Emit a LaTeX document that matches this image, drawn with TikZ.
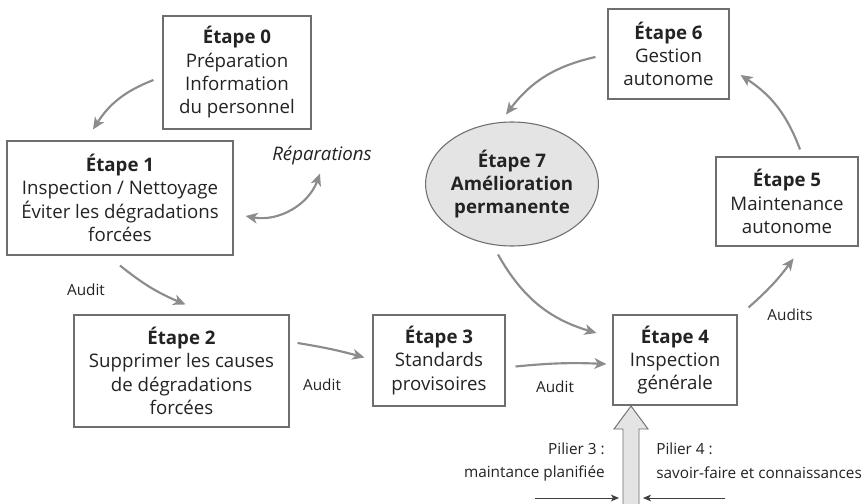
\documentclass[tikz,border=0pt]{standalone}
\usepackage{fontspec}
\setmainfont{Open Sans}
\usetikzlibrary{arrows.meta,shapes.geometric}
\definecolor{arrgray}{RGB}{140,140,140}
\definecolor{boxgray}{RGB}{110,110,110}
\definecolor{ellfill}{RGB}{228,228,228}
\definecolor{txt}{RGB}{35,35,35}
\tikzset{
  stagebox/.style={draw=boxgray,line width=0.8pt,rectangle,align=center,inner sep=0pt,
     text=txt,font=\fontsize{14}{17.5}\selectfont},
  stageell/.style={draw=boxgray,line width=0.8pt,ellipse,fill=ellfill,align=center,inner sep=0pt,
     text=txt,font=\fontsize{14}{17.5}\selectfont\bfseries},
  garrow/.style={draw=arrgray,line width=1.6pt,-{Stealth[length=9pt,width=8pt,inset=2.5pt]}},
  gdarrow/.style={draw=arrgray,line width=1.6pt,{Stealth[length=9pt,width=8pt,inset=2.5pt]}-{Stealth[length=9pt,width=8pt,inset=2.5pt]}},
  karrow/.style={draw=black!75,line width=0.6pt,-{Stealth[length=6pt,width=5pt,inset=1.5pt]}},
  lbl/.style={text=txt,font=\fontsize{11.5}{14}\selectfont,inner sep=0pt},
}
\begin{document}
\begin{tikzpicture}[x=0.75pt,y=-0.75pt]
\useasboundingbox[fill=white] (0,0) rectangle (866,503);
% stages
\node[stagebox,minimum width=111pt,minimum height=84.75pt] (e0) at (237,72.5)
  {\textbf{Étape 0}\\Préparation\\Information\\du personnel};
\node[stagebox,minimum width=169.5pt,minimum height=85.5pt] (e1) at (120,198)
  {\textbf{Étape 1}\\Inspection / Nettoyage\\Éviter les dégradations\\forcées};
\node[stagebox,minimum width=161.25pt,minimum height=84pt] (e2) at (181.5,371)
  {\textbf{Étape 2}\\Supprimer les causes\\de dégradations\\forcées};
\node[stagebox,minimum width=99pt,minimum height=68.25pt] (e3) at (439,360.5)
  {\textbf{Étape 3}\\Standards\\provisoires};
\node[stagebox,minimum width=93pt,minimum height=67.5pt] (e4) at (675,360)
  {\textbf{Étape 4}\\Inspection\\générale};
\node[stagebox,minimum width=106.5pt,minimum height=66.75pt] (e5) at (787,201.5)
  {\textbf{Étape 5}\\Maintenance\\autonome};
\node[stagebox,minimum width=90.75pt,minimum height=67.5pt] (e6) at (668.5,54)
  {\textbf{Étape 6}\\Gestion\\autonome};
\node[stageell,minimum width=115.5pt,minimum height=93pt] (e7) at (512,184)
  {Étape 7\\Amélioration\\permanente};
\node[lbl,font=\fontsize{14}{15}\selectfont\itshape] (rep) at (322,156) {Réparations};
% labels
\node[lbl] (au1) at (86,290) {Audit};
\node[lbl] (au2) at (322,385) {Audit};
\node[lbl] (au3) at (555,387) {Audit};
\node[lbl] (au4) at (790,315) {Audits};
\node[lbl,anchor=east] (p3a) at (605,449) {Pilier 3 :};
\node[lbl,anchor=east] (p3b) at (605,473) {maintance planifiée};
\node[lbl,anchor=west] (p4a) at (656,449) {Pilier 4 :};
\node[lbl,anchor=west] (p4b) at (656,473) {savoir-faire et connaissances};
% connectors
\draw[garrow] ([shift={(-9,7.5)}]e0.west) to[bend right=18] ([shift={(-27,-11)}]e1.north);
\draw[gdarrow] ([shift={(12,18)}]e1.east) to[bend right=40] ([shift={(-2,8)}]rep.south);
\draw[garrow] ([shift={(0,10)}]e1.south) to[bend right=8] ([shift={(4,-10)}]e2.north);
\draw[garrow] ([shift={(8,-28)}]e2.east) to[bend left=3] ([shift={(-8,-3)}]e3.west);
\draw[garrow] ([shift={(10,6)}]e3.east) to[bend left=4] ([shift={(-6,4)}]e4.west);
\draw[garrow] ([shift={(-14,8)}]e7.south) to[bend right=22] ([shift={(-16,-27)}]e4.west);
\draw[garrow] ([shift={(11,-7)}]e4.north east) to[bend right=6] ([shift={(56,-56)}]e4.north east);
\draw[garrow] ([shift={(13,-7)}]e5.north) to[bend right=18] ([shift={(11,21)}]e6.east);
\draw[garrow] ([shift={(-12,3)}]e6.west) to[bend right=20] ([shift={(-6,-7)}]e7.north);
% big pillar arrow
\draw[draw=boxgray,line width=0.7pt,fill=ellfill]
  (623,505) -- (623,429) -- (614,429) -- (631,406) -- (648,429) -- (639,429) -- (639,505);
\coordinate (pl) at (535,498);
\coordinate (pr) at (725,498);
\draw[karrow] (pl) -- (619,498);
\draw[karrow] (pr) -- (643,498);
\end{tikzpicture}
\end{document}
